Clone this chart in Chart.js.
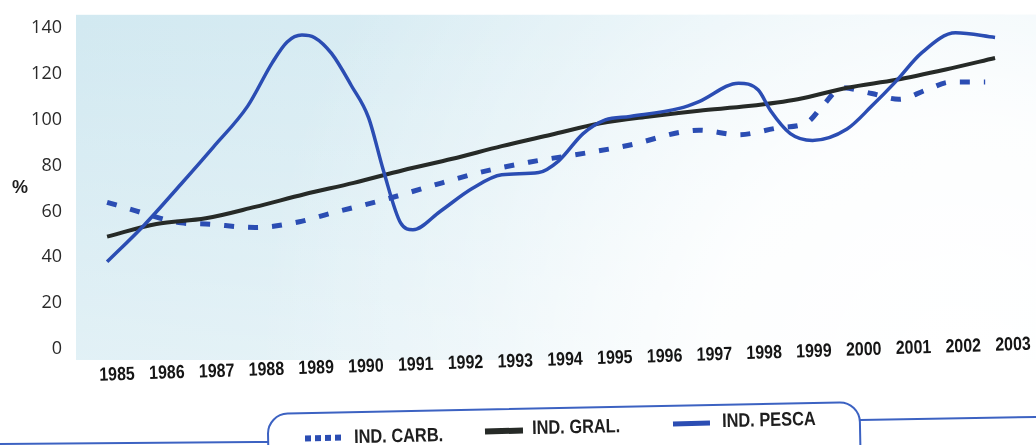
<!DOCTYPE html>
<html>
<head>
<meta charset="utf-8">
<script src="https://cdn.jsdelivr.net/npm/chart.js@4/dist/chart.umd.min.js"></script>
<style>
  body{ margin:0; background:#fff; }
  #wrap{ position:relative; width:1036px; height:445px; overflow:hidden; }
  #chart{ position:absolute; left:0; top:0; }
  #frame{ position:absolute; left:0; top:0; }
  .pct{ position:absolute; left:12px; top:177px; font:bold 18px "Liberation Sans", sans-serif; color:#1e1e1e; }
  .sample{ position:absolute; transform:rotate(-1.2deg); }
  .ltxt{ position:absolute; font:bold 19.5px "Liberation Sans", sans-serif; color:#1e1e1e; line-height:20px; transform-origin:left center; transform:rotate(-1.2deg) scaleX(0.84); white-space:nowrap; }
</style>
</head>
<body>
<div id="wrap">
  <canvas id="chart" width="1036" height="445"></canvas>
  <svg id="frame" width="1036" height="445">
    <path d="M0,444 L270,442" stroke="#3c62c2" stroke-width="2" fill="none"/>
    <rect x="268" y="408" width="592" height="70" rx="20" ry="20" stroke="#3c62c2" stroke-width="2" fill="#fff" transform="rotate(-1.15 564 430)"/>
    <path d="M860,420 L1036,417" stroke="#3c62c2" stroke-width="2" fill="none"/>
  </svg>
  <div class="pct">%</div>

  <div class="sample" style="left:305px;top:435px;width:38px;height:6px;background:repeating-linear-gradient(90deg,#2b4db3 0 6px,transparent 6px 10px);"></div>
  <div class="ltxt" style="left:354px;top:426px;">IND. CARB.</div>

  <div class="sample" style="left:485px;top:428px;width:38px;height:6px;background:#262a27;"></div>
  <div class="ltxt" style="left:532px;top:417px;">IND. GRAL.</div>

  <div class="sample" style="left:673px;top:421px;width:37px;height:5px;background:#2b4db3;"></div>
  <div class="ltxt" style="left:722px;top:410px;">IND. PESCA</div>
</div>

<script>
// years shown under the axis
const years = [1985,1986,1987,1988,1989,1990,1991,1992,1993,1994,1995,1996,1997,1998,1999,2000,2001,2002,2003];
const yTicks = [0,20,40,60,80,100,120,140];

// IND. GRAL. (solid black)
const gralValues = [49,54.5,57,62,67.5,72.5,78,83,88.5,93.5,98.5,101.5,104,106,109,114,117.5,122,127];

// IND. CARB. (dashed blue), read at the bends of the curve
const carbYears  = [1985,1985.55,1986,1986.5,1987,1988,1988.9,1989.5,1990.6,1991.55,1992.55,1993.55,1994.7,1995.6,1996.6,1997,1997.8,1998.6,1999.2,1999.5,1999.9,2000.5,2001.05,2001.6,2002.1,2002.8];
const carbValues = [64,60.5,57.5,55,54.5,53,55.5,59,65,71,77,81.5,85.5,89,94.5,95.5,93.5,96.5,99,106,114,111.5,109,113,116.5,116.5];

// IND. PESCA (solid blue)
const pescaYears  = [1985,1985.75,1986.5,1987.15,1987.85,1988.35,1988.65,1988.95,1989.2,1989.55,1989.95,1990.3,1990.6,1990.95,1991.2,1991.75,1992.4,1993,1993.75,1994.15,1994.65,1995.1,1995.6,1996.6,1997,1997.8,1998.2,1998.45,1998.85,1999.3,2000,2000.5,2001,2001.5,2002.2,2003];
const pescaValues = [38,54,72,88,106,125,134,137,136,129,115,101,78,55,52,60,70,76,77,82,94,100,101.5,105,108,116,113,104,94,91,96,106,117,129,138,136];

const BLUE = '#2b4db3';
const DARK = '#262a27';

const pts = (xs, ys) => xs.map((x,i)=>({x, y: ys[i]}));

const bgPlugin = {
  id:'bg',
  beforeDatasetsDraw(chart){
    const {ctx, chartArea:a} = chart;
    const h = a.bottom - a.top + 4;
    ctx.save();
    const lin = ctx.createLinearGradient(a.left, 0, a.right, 0);
    lin.addColorStop(0, '#d2e9f1');
    lin.addColorStop(1, '#e4f2f7');
    ctx.fillStyle = lin;
    ctx.fillRect(a.left, a.top - 2, a.right - a.left, h);
    const vert = ctx.createLinearGradient(0, a.top, 0, a.bottom);
    vert.addColorStop(0, 'rgba(255,255,255,0)');
    vert.addColorStop(1, 'rgba(255,255,255,0.35)');
    ctx.fillStyle = vert;
    ctx.fillRect(a.left, a.top - 2, a.right - a.left, h);
    const rad = ctx.createRadialGradient(a.right - 80, a.bottom + 10, 0, a.right - 80, a.bottom + 10, 700);
    rad.addColorStop(0, 'rgba(255,255,255,1)');
    rad.addColorStop(0.35, 'rgba(255,255,255,0.9)');
    rad.addColorStop(0.7, 'rgba(255,255,255,0.35)');
    rad.addColorStop(1, 'rgba(255,255,255,0)');
    ctx.fillStyle = rad;
    ctx.fillRect(a.left, a.top - 2, a.right - a.left, h);
    ctx.restore();
  }
};

// year labels sit on a slightly tilted baseline in the scan
const yearLabels = {
  id:'yearLabels',
  afterDraw(chart){
    const {ctx, chartArea:a} = chart;
    const sx = chart.scales.x;
    ctx.save();
    ctx.font = 'bold 19px "Liberation Sans", sans-serif';
    ctx.fillStyle = '#151515';
    ctx.textAlign = 'center';
    ctx.textBaseline = 'middle';
    years.forEach((yr,i)=>{
      const t = i/(years.length-1);
      const x = sx.getPixelForValue(yr) + 10 + 8*t;
      const y = a.bottom + 17 - 30*t;
      ctx.save();
      ctx.translate(x, y);
      ctx.rotate(-0.03);
      ctx.scale(0.84, 1);
      ctx.fillText(String(yr), 0, 0);
      ctx.restore();
    });
    ctx.restore();
  }
};

new Chart(document.getElementById('chart'), {
  type:'line',
  data:{
    datasets:[
      { label:'IND. PESCA', data: pts(pescaYears, pescaValues), borderColor: BLUE, borderWidth: 3.5, pointRadius:0, fill:false, cubicInterpolationMode:'monotone' },
      { label:'IND. GRAL.', data: pts(years, gralValues), borderColor: DARK, borderWidth: 4, pointRadius:0, fill:false, cubicInterpolationMode:'monotone' },
      { label:'IND. CARB.', data: pts(carbYears, carbValues), borderColor: BLUE, borderWidth: 5, borderDash:[10,14], borderCapStyle:'butt', pointRadius:0, fill:false, cubicInterpolationMode:'monotone' }
    ]
  },
  options:{
    responsive:false,
    animation:false,
    layout:{ padding:{ top:12, right:0, bottom:0, left:0 } },
    plugins:{ legend:{ display:false }, tooltip:{ enabled:false } },
    scales:{
      x:{
        type:'linear', min:1984.37, max:2003.83,
        grid:{ display:false }, border:{ display:false },
        ticks:{ display:false },
        afterBuildTicks(s){ s.ticks = years.map(v=>({value:v})); },
        afterFit(s){ s.height = 87; }
      },
      y:{
        min:-4, max:145,
        grid:{ display:false }, border:{ display:false },
        ticks:{ color:'#2a2a2a', padding:6, font:{ family:'"Open Sans", sans-serif', size:18 } },
        afterBuildTicks(s){ s.ticks = yTicks.map(v=>({value:v})); },
        afterFit(s){ s.width = 76; }
      }
    }
  },
  plugins:[bgPlugin, yearLabels]
});
</script>
</body>
</html>
